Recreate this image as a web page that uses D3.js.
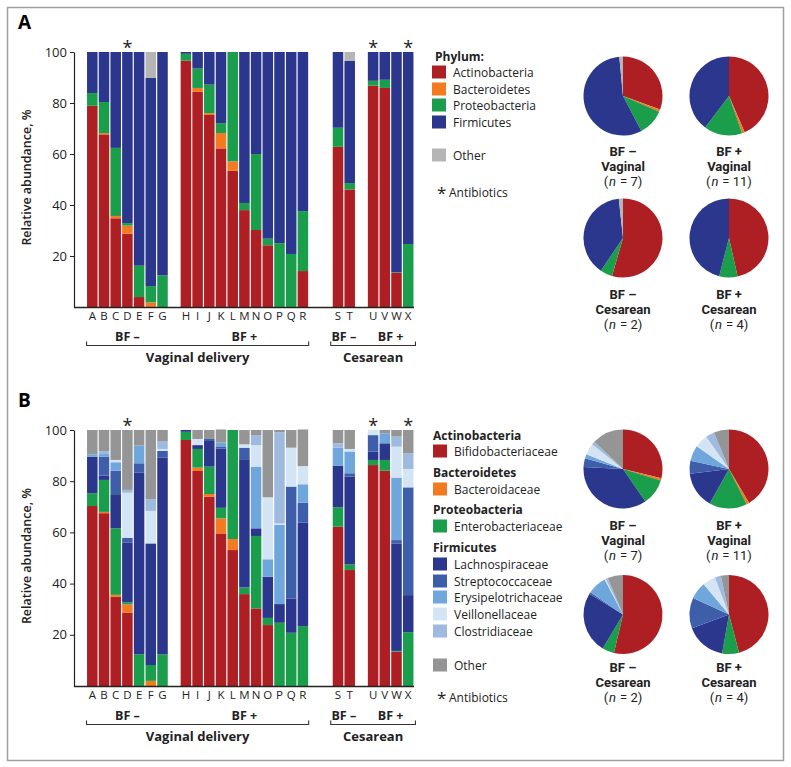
<!DOCTYPE html>
<html><head><meta charset="utf-8">
<script src="https://cdn.jsdelivr.net/npm/d3@7"></script>
<style>
body{margin:0;background:#fff;}
svg{font-family:"Open Sans",sans-serif;}
</style></head>
<body><svg id="chart" width="791" height="767"></svg>
<script>
// ---------------- DATA ----------------
const samples = ["A","B","C","D","E","F","G","H","I","J","K","L","M","N","O","P","Q","R","S","T","U","V","W","X"];
const slotLayout = ["A","B","C","D","E","F","G","_1","H","I","J","K","L","M","N","O","P","Q","R","_2","_3","S","T","_4","U","V","W","X"];
const antibioticSamples = ["D","U","X"];
const yTicks = [20,40,60,80,100];

// Panel A (phylum), % per sample
const actinobacteriaA = [78.9,67.7,34.8,28.7,3.9,0,0,96.6,84.4,75.3,62.2,53.4,38.0,30.2,24.2,0,0,14.1,62.8,46.1,86.8,85.9,13.4,0];
const bacteroidetesA  = [0,0.5,0.9,3.2,0,1.8,0,0,1.5,0.7,6.0,3.7,0,0,0,0,0,0,0,0,0,0,0,0];
const proteobacteriaA = [5.0,12.2,26.7,1.0,12.3,6.4,12.4,2.7,7.6,11.2,3.9,42.9,2.8,29.8,2.6,25.0,20.8,23.5,7.5,2.5,1.9,3.2,0.2,24.7];
const firmicutesA     = [16.1,19.6,37.6,67.1,83.8,81.6,87.6,0.7,6.5,12.8,27.9,0,59.2,40.0,73.2,75.0,79.2,62.4,29.7,47.9,11.3,10.9,86.4,75.3];
const otherA          = [0,0,0,0,0,10.2,0,0,0,0,0,0,0,0,0,0,0,0,0,3.5,0,0,0,0];

// Panel B (family), % per sample
const bifidobacteriaceae  = [70.3,67.5,34.8,28.7,0,0,0,96.1,84.0,74.0,59.6,53.1,35.9,30.3,23.8,0,0,0,62.2,45.3,86.3,84.1,13.4,0];
const bacteroidaceae      = [0,0.5,0.8,3.2,0,2.0,0,0,1.3,1.0,5.9,4.3,0,0,0,0,0,0,0,0,0,0,0,0];
const enterobacteriaceae  = [5.0,12.5,26.0,0.8,12.4,6.2,12.4,3.2,7.3,10.7,4.1,42.6,2.6,28.3,2.8,24.7,20.8,23.4,7.6,2.2,2.0,4.2,0.3,21.0];
const lachnospiraceae     = [14.3,1.7,13.0,23.4,70.9,47.5,76.9,0.7,1.5,10.0,23.2,0,49.8,3.0,16.1,7.3,13.4,40.4,16.3,34.3,3.3,6.5,42.0,14.5];
const streptococcaceae    = [0,7.4,9.5,1.8,3.7,0,2.5,0,0,0.8,0.8,0,4.8,0,0,0,43.7,7.8,0,1.3,6.4,0,1.3,42.1];
const erysipelotrichaceae = [0.9,1.0,3.3,0,6.9,0,0,0,0,0,1.5,0,0,24.1,6.8,30.9,0,7.2,7.0,8.5,0,3.9,24.4,0];
const veillonellaceae     = [0,0,0.9,17.6,0,12.7,0.8,0,2.4,0,0,0,1.3,8.4,24.2,0.6,15.2,7.1,0,1.0,2.0,0,12.1,7.2];
const clostridiaceae      = [0,1.2,0,1.1,0,4.6,3.1,0,0,0,0,0,0,3.9,0,35.6,0,0,1.7,0,0,0,3.9,6.1];
const otherB              = [9.5,8.2,11.7,23.4,6.1,27.0,4.3,0,3.5,3.5,5.1,0,5.6,2.0,26.3,0.9,6.9,14.3,5.2,7.4,0,1.3,2.6,9.1];

// Pie groups
const pieTitles = [["BF –","Vaginal","7"],["BF +","Vaginal","11"],["BF –","Cesarean","2"],["BF +","Cesarean","4"]];
// Panel A pies: Actinobacteria, Bacteroidetes, Proteobacteria, Firmicutes, Other
const pieA_vagBFminus = [30.6,0.9,10.8,56.2,1.5];
const pieA_vagBFplus  = [43.5,1.1,15.7,39.7,0];
const pieA_cesBFminus = [54.5,0,5.0,38.8,1.7];
const pieA_cesBFplus  = [46.5,0,7.5,46.0,0];
// Panel B pies: Bifido, Bacteroid, Entero, Lachno, Strep, Erysip, Veillon, Clostrid, Other
const pieB_vagBFminus = [28.8,0.9,10.8,35.4,3.6,1.7,4.6,1.4,12.9];
const pieB_vagBFplus  = [41.5,1.1,15.5,15.0,5.3,6.4,5.4,3.6,6.2];
const pieB_cesBFminus = [53.8,0,4.9,25.3,0.7,7.8,0.5,0.9,6.3];
const pieB_cesBFplus  = [46.0,0,6.9,16.6,12.5,7.1,5.3,2.5,3.3];

const feedingGroups = [["BF –","A","G"],["BF +","H","R"],["BF –","S","T"],["BF +","U","X"]];
const deliveryGroups = [["Vaginal delivery","A","R"],["Cesarean","S","X"]];

// ---------------- STYLE ----------------
const C = {
  red:"#ae1f24", orange:"#f37a21", green:"#1b9e4b", navy:"#2b378c",
  strep:"#3e5eaa", erysip:"#6fa7dd", veil:"#d3e4f5", clost:"#9fbadf",
  otherA:"#b5b5b5", otherB:"#959595"
};
const seriesA = [
  {key:"Actinobacteria", values:actinobacteriaA, color:C.red},
  {key:"Bacteroidetes", values:bacteroidetesA, color:C.orange},
  {key:"Proteobacteria", values:proteobacteriaA, color:C.green},
  {key:"Firmicutes", values:firmicutesA, color:C.navy},
  {key:"Other", values:otherA, color:C.otherA}
];
const seriesB = [
  {key:"Bifidobacteriaceae", values:bifidobacteriaceae, color:C.red},
  {key:"Bacteroidaceae", values:bacteroidaceae, color:C.orange},
  {key:"Enterobacteriaceae", values:enterobacteriaceae, color:C.green},
  {key:"Lachnospiraceae", values:lachnospiraceae, color:C.navy},
  {key:"Streptococcaceae", values:streptococcaceae, color:C.strep},
  {key:"Erysipelotrichaceae", values:erysipelotrichaceae, color:C.erysip},
  {key:"Veillonellaceae", values:veillonellaceae, color:C.veil},
  {key:"Clostridiaceae", values:clostridiaceae, color:C.clost},
  {key:"Other", values:otherB, color:C.otherB}
];

const svg = d3.select("#chart");
svg.append("rect").attr("x",7.5).attr("y",7.5).attr("width",776).attr("height",753)
  .attr("fill","none").attr("stroke","#a0a0a0").attr("stroke-width",1.5);

const x = d3.scaleBand().domain(slotLayout).range([86.45,414.05]).paddingInner(0.1).paddingOuter(0.05);

function drawPanel(letter, series, top, bottom) {
  const g = svg.append("g");
  const y = d3.scaleLinear().domain([0,100]).range([bottom, top]);
  g.append("text").attr("x",18).attr("y",top-23).attr("font-size",19).attr("font-weight",700).text(letter);

  const rows = samples.map((s,i)=>{const o={sample:s}; series.forEach(se=>o[se.key]=se.values[i]); return o;});
  const stacked = d3.stack().keys(series.map(s=>s.key))(rows);
  g.selectAll("g.layer").data(stacked).join("g").attr("class","layer")
    .attr("fill",(d,i)=>series[i].color)
    .selectAll("rect").data(d=>d).join("rect")
    .attr("x",d=>x(d.data.sample)).attr("width",x.bandwidth())
    .attr("y",d=>y(d[1])).attr("height",d=>Math.max(0,y(d[0])-y(d[1])));

  // y axis
  const ax = g.append("g").attr("transform","translate(74,0)")
    .call(d3.axisLeft(y).tickValues(yTicks).tickSize(4).tickSizeOuter(0).tickPadding(3));
  ax.select(".domain").attr("stroke","#222").attr("stroke-width",1.2);
  ax.selectAll(".tick line").attr("stroke","#222");
  ax.selectAll(".tick text").attr("font-size",13).attr("fill","#222").attr("font-family","Open Sans, sans-serif");
  // x baseline
  g.append("line").attr("x1",74).attr("x2",414).attr("y1",bottom+0.5).attr("y2",bottom+0.5)
    .attr("stroke","#222").attr("stroke-width",1.6);
  // y label
  g.append("text").attr("transform",`translate(31,${(top+bottom)/2 - 2}) rotate(-90)`)
    .attr("text-anchor","middle").attr("font-size",12.5).attr("font-weight",600).attr("fill","#222")
    .text("Relative abundance, %");
  // sample letters
  g.selectAll("text.sl").data(samples).join("text").attr("class","sl")
    .attr("x",d=>x(d)+x.bandwidth()/2).attr("y",bottom+12.5).attr("text-anchor","middle")
    .attr("font-size",11.5).attr("fill","#222").text(d=>d);
  // antibiotics stars
  g.selectAll("text.star").data(antibioticSamples).join("text").attr("class","star")
    .attr("x",d=>x(d)+x.bandwidth()/2).attr("y",top+2).attr("text-anchor","middle")
    .attr("font-size",18).attr("fill","#222").text("*");
  // feeding group labels
  feedingGroups.forEach(([lab,a,b])=>{
    const cx = (x(a)+x(b)+x.bandwidth())/2;
    g.append("text").attr("x",cx).attr("y",bottom+33.5).attr("text-anchor","middle")
      .attr("font-size",12.5).attr("font-weight",700).attr("fill","#222").text(lab);
  });
  deliveryGroups.forEach(([lab,a,b],i)=>{
    const x1 = x(a) - (i?2:0.5), x2 = x(b)+x.bandwidth()+(i?2:0.5);
    const by = bottom+38.5;
    g.append("path").attr("d",`M${x1},${by-4}V${by}H${x2}V${by-4}`).attr("fill","none")
      .attr("stroke","#333").attr("stroke-width",1.1);
    g.append("text").attr("x",(x1+x2)/2).attr("y",bottom+54.5).attr("text-anchor","middle")
      .attr("font-size",13).attr("font-weight",700).attr("fill","#222").text(lab);
  });
}
drawPanel("A", seriesA, 52, 307);
drawPanel("B", seriesB, 430, 686);

// ---------------- LEGENDS ----------------
function legendItem(xs, yc, color, label) {
  if (color) svg.append("rect").attr("x",xs).attr("y",yc-6.5).attr("width",14).attr("height",13).attr("fill",color);
  svg.append("text").attr("x",xs+21).attr("y",yc).attr("dominant-baseline","central")
    .attr("font-size",12).attr("fill","#222").text(label);
}
function legendHeader(xs, yc, label) {
  svg.append("text").attr("x",xs).attr("y",yc).attr("dominant-baseline","central")
    .attr("font-size",12).attr("font-weight",700).attr("fill","#222").text(label);
}
function legendStar(xs, yc) {
  svg.append("text").attr("x",xs).attr("y",yc+7).attr("font-size",17).attr("fill","#222").text("*");
  svg.append("text").attr("x",xs+12).attr("y",yc).attr("dominant-baseline","central")
    .attr("font-size",12).attr("fill","#222").text("Antibiotics");
}
legendHeader(435, 56, "Phylum:");
const legAy = [72,89,105,122,155];
seriesA.forEach((s,i)=>legendItem(432, legAy[i], s.color, s.key));
legendStar(437, 192);

const legBHeaders = [["Actinobacteria",435],["Bacteroidetes",472],["Proteobacteria",509],["Firmicutes",547]];
legBHeaders.forEach(([t,yc])=>legendHeader(433, yc, t));
const legBy = [451,489,526,564,581,597,614,631,665];
seriesB.forEach((s,i)=>legendItem(433, legBy[i], s.color, s.key));
legendStar(437, 697);

// ---------------- PIES ----------------
const pieGen = d3.pie().sort(null).value(d=>d);
const arc = d3.arc().innerRadius(0).outerRadius(39.5);
const pieCols = [623, 729];
const PIE_FONT = "Roboto, sans-serif";
function nLabel(cx, yc, n) {
  const parts = [["(","normal"],["n","italic"],[`\u00A0=\u00A0${n})`,"normal"]];
  const nodes = parts.map(([t,st])=>svg.append("text").attr("y",yc).attr("dominant-baseline","central")
    .attr("font-family",PIE_FONT).attr("font-size",13).attr("font-style",st).attr("fill","#222").text(t));
  const widths = nodes.map(n=>n.node().getComputedTextLength());
  const gap = 0.8;
  const total = widths.reduce((a,b)=>a+b,0) + gap*2;
  let cur = cx - total/2;
  nodes.forEach((nd,i)=>{ nd.attr("x",cur); cur += widths[i] + gap; });
}
function drawPies(valuesList, colors, centersY, labelYs) {
  valuesList.forEach((vals,i)=>{
    const cx = pieCols[i%2], cy = centersY[Math.floor(i/2)], ly = labelYs[Math.floor(i/2)];
    const g = svg.append("g").attr("transform",`translate(${cx},${cy})`);
    g.selectAll("path").data(pieGen(vals)).join("path").attr("d",arc).attr("fill",(d,j)=>colors[j]);
    const t = pieTitles[i];
    svg.append("text").attr("x",cx).attr("y",ly).attr("text-anchor","middle").attr("dominant-baseline","central")
      .attr("font-family",PIE_FONT).attr("font-size",13).attr("font-weight",700).attr("fill","#222").text(t[0]);
    svg.append("text").attr("x",cx).attr("y",ly+15).attr("text-anchor","middle").attr("dominant-baseline","central")
      .attr("font-family",PIE_FONT).attr("font-size",13).attr("font-weight",700).attr("fill","#222").text(t[1]);
    nLabel(cx, ly+30, t[2]);
  });
}
drawPies([pieA_vagBFminus,pieA_vagBFplus,pieA_cesBFminus,pieA_cesBFplus], seriesA.map(s=>s.color), [96,238], [151,294]);
drawPies([pieB_vagBFminus,pieB_vagBFplus,pieB_cesBFminus,pieB_cesBFplus], seriesB.map(s=>s.color), [469,614.5], [525,667]);
</script>
</body></html>
